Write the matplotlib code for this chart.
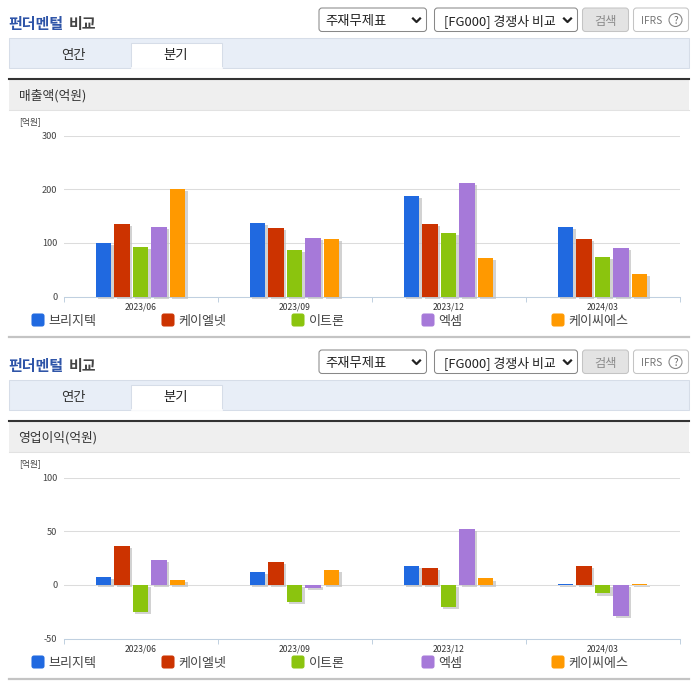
"""Recreate the fundamental comparison panels (sales and operating profit)."""

import matplotlib

matplotlib.use("Agg")
import matplotlib.patheffects as pe
import matplotlib.pyplot as plt
from matplotlib.patches import Circle, FancyBboxPatch, Rectangle

plt.rcParams["font.family"] = ["Noto Sans CJK KR", "DejaVu Sans"]
plt.rcParams["axes.unicode_minus"] = False

W, H = 696, 684
PANEL_OFFSET = 342

quarters = ["2023/06", "2023/09", "2023/12", "2024/03"]
companies = ["브리지텍", "케이엘넷", "이트론", "엑셈", "케이씨에스"]
colors = ["#2069e0", "#cc3300", "#8bc40e", "#a679d9", "#ff9900"]
legend_x = [32, 162, 292, 422, 552]

sales = [
    [100, 137, 188, 130],
    [135, 128, 135, 107],
    [92, 87, 119, 74],
    [130, 109, 212, 91],
    [200, 107, 72, 42],
]
profit = [
    [7, 12, 18, 1.2],
    [36, 21, 16, 18],
    [-25, -16, -21, -8],
    [23.5, -3, 52.5, -29],
    [5, 14, 6, 1.2],
]
sales_ticks = [0, 100, 200, 300]
profit_ticks = [-50, 0, 50, 100]


def rounded(page, x0, y0, x1, y1, face, edge, radius=3):
    page.add_patch(
        FancyBboxPatch(
            (x0, y0), x1 - x0, y1 - y0,
            boxstyle=f"round,pad=0,rounding_size={radius}",
            facecolor=face, edgecolor=edge, linewidth=0.75,
        )
    )


def chevron(page, x, y):
    page.plot([x - 3.5, x, x + 3.5], [y - 1.5, y + 2, y - 1.5], color="#222222", lw=1.6)


def draw_chrome(page, dy, metric):
    """Header, selects, tabs and band of one panel, in page pixels."""
    page.text(9, 24.5 + dy, "펀더멘털", color="#2f55a8", fontsize=10.8, weight="bold", va="center")
    page.text(69, 24.5 + dy, "비교", color="#444444", fontsize=10.8, weight="bold", va="center")

    rounded(page, 319.5, 8.5 + dy, 427, 32 + dy, "white", "#888888")
    page.text(326, 21.5 + dy, "주재무제표", color="#222222", fontsize=9.6, va="center")
    chevron(page, 417, 20.5 + dy)
    rounded(page, 435, 8.5 + dy, 578, 32 + dy, "white", "#888888")
    page.text(444, 21.5 + dy, "[FG000] 경쟁사 비교", color="#222222", fontsize=9.3, va="center")
    chevron(page, 568, 20.5 + dy)
    rounded(page, 583, 8.5 + dy, 629, 32 + dy, "#e3e3e3", "#c4c4c4")
    page.text(606, 21.5 + dy, "검색", color="#8a8a8a", fontsize=8.8, ha="center", va="center")
    rounded(page, 634, 8.5 + dy, 689, 32 + dy, "white", "#c4c4c4")
    page.text(641, 21 + dy, "IFRS", color="#777777", fontsize=7.4, va="center")
    page.add_patch(Circle((676, 20.5 + dy), 6.5, facecolor="white", edgecolor="#888888", lw=0.8))
    page.text(676, 21 + dy, "?", color="#666666", fontsize=7, ha="center", va="center")

    page.add_patch(Rectangle((9.5, 38.5 + dy), 679.5, 29.5, facecolor="#e8eef7", edgecolor="#d6dde8", lw=0.75))
    page.add_patch(Rectangle((131.5, 43.5 + dy), 91, 25, facecolor="white", edgecolor="#d6dde8", lw=0.75))
    page.plot([132, 222], [68 + dy, 68 + dy], color="white", lw=1.2)
    page.text(74, 55.5 + dy, "연간", color="#333333", fontsize=9.6, ha="center", va="center")
    page.text(176, 56 + dy, "분기", color="#222222", fontsize=9.6, ha="center", va="center")

    page.add_patch(Rectangle((9, 80 + dy), 680, 30, facecolor="#efefef", edgecolor="none"))
    page.plot([9, 689], [110.5 + dy, 110.5 + dy], color="#e2e2e2", lw=0.75)
    page.plot([9, 689], [79 + dy, 79 + dy], color="#333333", lw=1.5)
    page.text(19, 96 + dy, metric, color="#333333", fontsize=9.2, va="center")
    page.text(20, 122.5 + dy, "[억원]", color="#444444", fontsize=6.3, va="center")

    for x, name, color in zip(legend_x, companies, colors):
        rounded(page, x + 0.5, 314.5 + dy, x + 12.5, 326.5 + dy, color, color, radius=2)
        page.text(x + 17, 321.5 + dy, name, color="#444444", fontsize=9.4, va="center")
    page.plot([9, 689], [337 + dy, 337 + dy], color="#c4c4c4", lw=1.6)


def draw_chart(fig, top, bottom, series, ticks):
    """Grouped bars inside the plot area between the given pixel rows."""
    ax = fig.add_axes([63.5 / W, 1 - bottom / H, 616 / W, (bottom - top) / H])
    ax.patch.set_alpha(0)
    for i, (values, color) in enumerate(zip(series, colors)):
        positions = [q + (i - 2) * 0.12 for q in range(len(quarters))]
        ax.bar(
            positions, values, width=0.1, color=color, zorder=3, clip_on=False,
            path_effects=[
                pe.SimplePatchShadow(offset=(1.8, -1.5), shadow_rgbFace="#c0c0c0", alpha=0.7),
                pe.Normal(),
            ],
        )
    ax.set_xlim(-0.5, len(quarters) - 0.5)
    ax.set_ylim(ticks[0], ticks[-1])
    ax.set_yticks(ticks)
    ax.set_xticks([q - 0.5 for q in range(len(quarters) + 1)], labels=[])
    ax.set_xticks(range(len(quarters)), labels=quarters, minor=True)
    ax.tick_params(axis="x", which="major", length=3.6, width=0.7, color="#c0d0e0")
    ax.tick_params(axis="x", which="minor", length=0, pad=4.5, labelsize=6.2, labelcolor="#333333")
    ax.tick_params(axis="y", length=0, pad=4.5, labelsize=6.6, labelcolor="#444444")
    ax.grid(axis="y", color="#dcdcdc", lw=0.75, zorder=0)
    for side in ["top", "right", "left"]:
        ax.spines[side].set_visible(False)
    ax.spines["bottom"].set_color("#c0d0e0")
    ax.spines["bottom"].set_linewidth(0.75)
    return ax


fig = plt.figure(figsize=(W / 100, H / 100), dpi=100, facecolor="white")
page = fig.add_axes([0, 0, 1, 1])
page.set_xlim(0.5, W + 0.5)
page.set_ylim(H + 0.5, 0.5)
page.axis("off")

draw_chrome(page, 0, "매출액(억원)")
draw_chrome(page, PANEL_OFFSET, "영업이익(억원)")
draw_chart(fig, 135.7, 296.5, sales, sales_ticks)
draw_chart(fig, 477.7, 638.5, profit, profit_ticks)

fig.savefig("out.png", dpi=100)
